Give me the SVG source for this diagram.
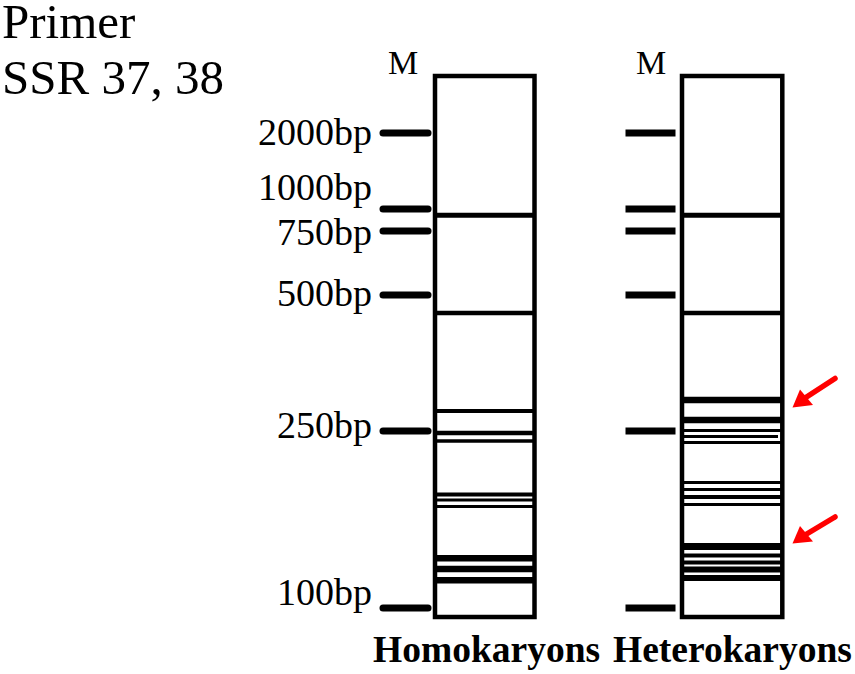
<svg xmlns="http://www.w3.org/2000/svg" width="855" height="674" viewBox="0 0 855 674">
<style>
.t{font-family:"Liberation Serif","Times New Roman",serif;fill:#000}
.lbl{font-size:38px;text-anchor:end}
.m{font-size:34px}
.b{font-size:37.5px;font-weight:bold}
.lane{fill:none;stroke:#000;stroke-width:4.5}
.band{stroke:#000}
.tick{stroke:#000;stroke-width:7}
.arrow{fill:#f00}
</style>
<rect width="855" height="674" fill="#fff"/>
<g id="title">
<text x="2" y="38" font-family="Liberation Serif, Times New Roman, serif" font-size="49">Primer</text>
<text x="2" y="94" font-family="Liberation Serif, Times New Roman, serif" font-size="49">SSR 37, 38</text>
</g>
<g id="marker-left">
<text class="t m" x="388" y="74">M</text>
<g class="tick" stroke-linecap="round">
<line x1="383" y1="133" x2="428" y2="133"/>
<line x1="383" y1="209" x2="428" y2="209"/>
<line x1="383" y1="231" x2="428" y2="231"/>
<line x1="383" y1="295" x2="428" y2="295"/>
<line x1="383" y1="431" x2="428" y2="431"/>
<line x1="383" y1="608" x2="428" y2="608"/>
</g>
<text class="t lbl" x="372" y="145">2000bp</text>
<text class="t lbl" x="372" y="200">1000bp</text>
<text class="t lbl" x="372" y="245">750bp</text>
<text class="t lbl" x="372" y="306">500bp</text>
<text class="t lbl" x="372" y="438">250bp</text>
<text class="t lbl" x="372" y="605">100bp</text>
</g>
<g id="lane-homokaryons">
<rect class="lane" x="435" y="76" width="99.5" height="541"/>
<g class="band">
<line x1="435" y1="215.3" x2="534.5" y2="215.3" stroke-width="5"/>
<line x1="435" y1="313" x2="534.5" y2="313" stroke-width="4.5"/>
<line x1="435" y1="411" x2="534.5" y2="411" stroke-width="4"/>
<line x1="435" y1="433" x2="534.5" y2="433" stroke-width="4.5"/>
<line x1="435" y1="441" x2="534.5" y2="441" stroke-width="3.5"/>
<line x1="435" y1="494.5" x2="534.5" y2="494.5" stroke-width="4"/>
<line x1="435" y1="500" x2="534.5" y2="500" stroke-width="3"/>
<line x1="435" y1="506.5" x2="534.5" y2="506.5" stroke-width="3"/>
<line x1="435" y1="558.3" x2="534.5" y2="558.3" stroke-width="6.5"/>
<line x1="435" y1="569" x2="534.5" y2="569" stroke-width="6.5"/>
<line x1="435" y1="580.3" x2="534.5" y2="580.3" stroke-width="6.5"/>
</g>
<text class="t b" x="373" y="662">Homokaryons</text>
</g>
<g id="marker-right">
<text class="t m" x="636" y="74">M</text>
<g class="tick">
<line x1="625.5" y1="133" x2="675.5" y2="133"/>
<line x1="625.5" y1="209" x2="675.5" y2="209"/>
<line x1="625.5" y1="231" x2="675.5" y2="231"/>
<line x1="625.5" y1="295" x2="675.5" y2="295"/>
<line x1="625.5" y1="431" x2="675.5" y2="431"/>
<line x1="625.5" y1="608" x2="675.5" y2="608"/>
</g>
</g>
<g id="lane-heterokaryons">
<rect class="lane" x="682" y="76" width="100.3" height="541"/>
<g class="band">
<line x1="682" y1="215.3" x2="782.3" y2="215.3" stroke-width="5"/>
<line x1="682" y1="313" x2="782.3" y2="313" stroke-width="4.5"/>
<line x1="682" y1="400" x2="782.3" y2="400" stroke-width="6.5"/>
<line x1="682" y1="420" x2="782.3" y2="420" stroke-width="6.5"/>
<line x1="682" y1="430.5" x2="782.3" y2="430.5" stroke-width="3"/>
<line x1="682" y1="436.5" x2="778" y2="436.5" stroke-width="3"/>
<line x1="682" y1="442.5" x2="782.3" y2="442.5" stroke-width="3"/>
<line x1="682" y1="482.5" x2="782.3" y2="482.5" stroke-width="3"/>
<line x1="682" y1="489.5" x2="782.3" y2="489.5" stroke-width="3"/>
<line x1="682" y1="497" x2="782.3" y2="497" stroke-width="4"/>
<line x1="682" y1="504.5" x2="782.3" y2="504.5" stroke-width="3"/>
<line x1="682" y1="546.5" x2="782.3" y2="546.5" stroke-width="7"/>
<line x1="682" y1="555.5" x2="782.3" y2="555.5" stroke-width="4"/>
<line x1="682" y1="562.5" x2="782.3" y2="562.5" stroke-width="4"/>
<line x1="682" y1="569.5" x2="782.3" y2="569.5" stroke-width="6"/>
<line x1="682" y1="578" x2="782.3" y2="578" stroke-width="6"/>
</g>
<text class="t b" x="613" y="662">Heterokaryons</text>
</g>
<g id="arrows">
<g class="arrow">
<line x1="835" y1="378.5" x2="805" y2="398" stroke="#f00" stroke-width="5.5" stroke-linecap="round"/>
<polygon points="792.5,407.5 800,389.5 813,405"/>
<line x1="835" y1="517" x2="805" y2="535" stroke="#f00" stroke-width="5.5" stroke-linecap="round"/>
<polygon points="792.5,543.5 800,526 813,541.5"/>
</g>
</g>
</svg>
